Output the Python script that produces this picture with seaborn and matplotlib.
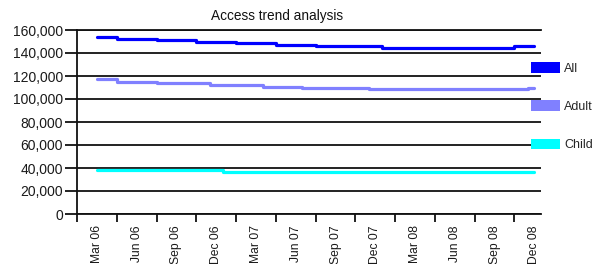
import numpy as np
import pandas as pd
import matplotlib
matplotlib.use("Agg")
import matplotlib.pyplot as plt
from matplotlib.patches import Patch
import seaborn as sns

# monthly series, Mar 06 .. Dec 08 (34 months)
months = [p.strftime("%b %y") for p in pd.period_range("2006-03", "2008-12", freq="M")]
quarter_labels = ["Mar 06", "Jun 06", "Sep 06", "Dec 06", "Mar 07", "Jun 07",
                  "Sep 07", "Dec 07", "Mar 08", "Jun 08", "Sep 08", "Dec 08"]

all_users = [154200, 154200, 152400, 152400, 152400, 151000, 151000, 151000,
             149600, 149600, 149600, 148500, 148500, 148500, 147200, 147200,
             147200, 145800, 145800, 145800, 145800, 145800, 144400, 144400,
             144400, 144400, 144400, 144400, 144400, 144400, 144400, 144400,
             146400, 146400]
adult_users = [117100, 117100, 115100, 115100, 115100, 113700, 113700, 113700,
               113700, 112200, 112200, 112200, 112200, 110700, 110700, 110700,
               109600, 109600, 109600, 109600, 109600, 108400, 108400, 108400,
               108400, 108400, 108400, 108400, 108400, 108400, 108400, 108400,
               108400, 109800]
child_users = [38300, 38300, 38300, 38300, 38300, 38300, 38300, 38300,
               38300, 38300, 36500, 36500, 36500, 36500, 36500, 36500,
               36500, 36500, 36500, 36500, 36500, 36500, 36500, 36500,
               36500, 36500, 36500, 36500, 36500, 36500, 36500, 36500,
               36500, 36500]

series_names = ["All", "Adult", "Child"]
series_colors = ["#0000ff", "#8080ff", "#00ffff"]

frames = []
for name, vals in zip(series_names, [all_users, adult_users, child_users]):
    frames.append(pd.DataFrame({"month": months, "pos": np.arange(len(months)),
                                "users": vals, "series": name}))
df = pd.concat(frames, ignore_index=True)

sns.set_style("white")
plt.rcParams["font.family"] = ["Liberation Sans", "DejaVu Sans"]

fig = plt.figure(figsize=(6.03, 2.64), dpi=100)
ax = fig.add_axes([77 / 603, 1 - 214 / 264, 464 / 603, 184 / 264])

sns.lineplot(data=df, x="pos", y="users", hue="series", hue_order=series_names,
             palette=series_colors, drawstyle="steps-mid", linewidth=2.3,
             legend=False, ax=ax)

# axes / grid
ax.set_ylim(0, 160000)
ax.set_xlim(-1.5, len(months) - 0.5)
ax.set_yticks(np.arange(0, 160001, 20000))
ax.set_yticklabels([f"{v:,}" for v in range(0, 160001, 20000)])
ax.yaxis.grid(True, color="#111111", linewidth=1.3)
ax.xaxis.grid(False)
ax.set_axisbelow(True)

for side in ["left", "bottom", "top"]:
    ax.spines[side].set_visible(True)
    ax.spines[side].set_color("#111111")
    ax.spines[side].set_linewidth(1.3)
ax.spines["right"].set_visible(False)

# quarter boundaries as major ticks, quarter labels centred as minor ticks
ax.set_xticks(np.arange(-1.5, len(months), 3))
ax.set_xticklabels([])
ax.set_xticks(np.arange(0, len(months), 3), minor=True)
ax.set_xticklabels(quarter_labels, minor=True, rotation=90)
ax.tick_params(axis="x", which="major", length=6, width=1.3, color="#111111", bottom=True)
ax.tick_params(axis="x", which="minor", length=0, pad=8, labelsize=8.7, labelcolor="#1a1a1a")
ax.tick_params(axis="y", length=9, width=1.3, color="#111111", pad=1,
               labelsize=10, labelcolor="#1a1a1a", left=True)
ax.set_xlabel("")
ax.set_ylabel("")

fig.text(277 / 603, 1 - 16 / 264, "Access trend analysis", ha="center", va="center",
         fontsize=9.8, color="#111111")

handles = [Patch(facecolor=c, edgecolor="none", label=n)
           for n, c in zip(series_names, series_colors)]
fig.legend(handles=handles, loc="upper left", bbox_to_anchor=(525 / 603, 1 - 56 / 264),
           frameon=False, fontsize=9, handlelength=2.3, handleheight=0.9,
           labelspacing=2.05, handletextpad=0.35, borderpad=0)

fig.savefig("out.png", dpi=100)
